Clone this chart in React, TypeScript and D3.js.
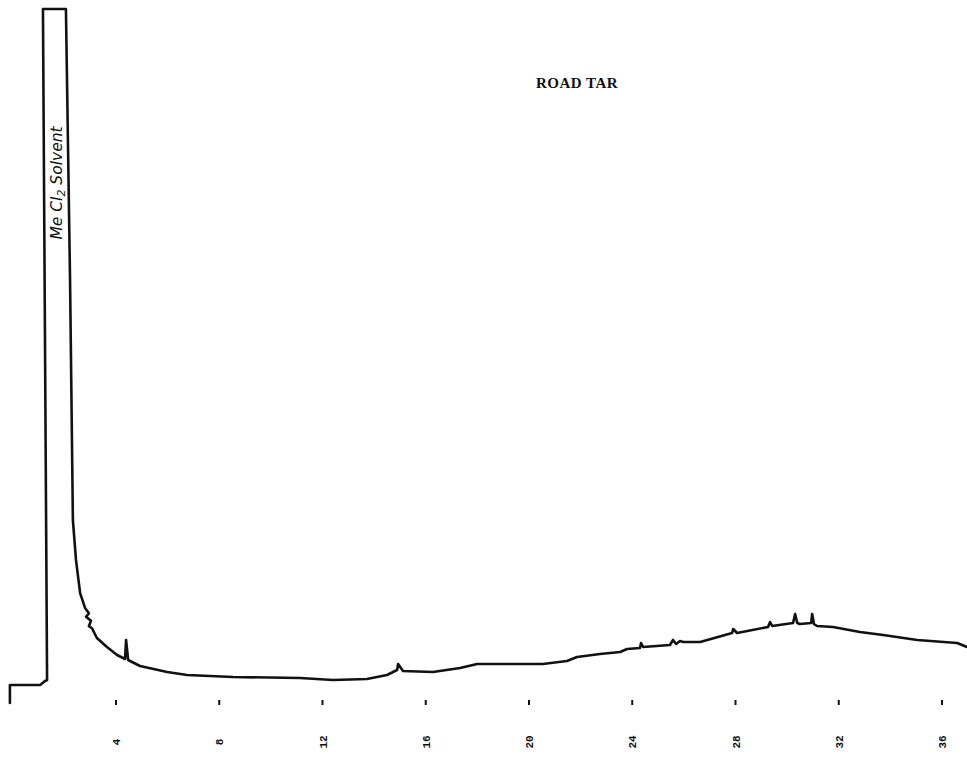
import React from "react";
import * as d3 from "d3";

// Retention time (min) and detector response (% full scale)
const times: number[] = [
  -0.11, -0.11, 1.06, 1.25, 1.33, 1.17, 2.06, 2.22, 2.33, 2.45, 2.61, 2.8, 2.95, 2.84, 3.03, 2.95, 3.07,
  3.26, 3.65, 4.04, 4.35, 4.39, 4.47, 4.93, 5.98, 6.75, 8.53, 11.13, 12.41, 13.72, 14.5, 14.89, 14.93,
  15.12, 16.28, 17.33, 17.99, 20.54, 21.47, 21.86, 22.75, 23.53, 23.8, 24.3, 24.34, 24.42, 25.46, 25.58,
  25.7, 25.85, 25.97, 26.63, 27.87, 27.91, 28.06, 29.26, 29.34, 29.42, 30.23, 30.31, 30.39, 30.5, 30.93,
  30.97, 31.04, 31.16, 31.78, 32.82, 33.72, 35.04, 36.59, 36.97,
];
const response: number[] = [
  -2.66, 0, 0, 0.59, 0.74, 100, 100, 59.9, 24.4, 18.5, 13.6, 11.4, 10.6, 10.1, 9.5, 8.7, 8.4,
  6.95, 5.62, 4.44, 3.85, 6.66, 3.7, 2.81, 1.92, 1.48, 1.18, 1.04, 0.74, 0.89, 1.48, 2.22, 3.11,
  2.07, 1.92, 2.51, 3.11, 3.11, 3.55, 4.14, 4.59, 4.88, 5.33, 5.47, 6.21, 5.62, 5.92, 6.66,
  6.07, 6.51, 6.36, 6.36, 7.69, 8.28, 7.69, 8.58, 9.32, 8.73, 9.17, 10.5, 9.17, 9.02, 9.17,
  10.5, 9.02, 8.73, 8.58, 7.84, 7.4, 6.66, 6.21, 5.62,
];
const tickValues: number[] = [4, 8, 12, 16, 20, 24, 28, 32, 36];
const title = "ROAD TAR";
const peakLabel = "Me Cl";
const peakLabelSub = "2";
const peakLabelRest = " Solvent";

export default function App() {
  const W = 967;
  const H = 757;
  const x = d3.scaleLinear().domain([4, 36]).range([116, 942]);
  const y = d3.scaleLinear().domain([0, 100]).range([685, 9]);
  const pts = times.map((t, i) => ({ t, s: response[i] }));
  const line = d3
    .line<{ t: number; s: number }>()
    .x((d) => x(d.t))
    .y((d) => y(d.s));
  const labelX = (x(1.17) + x(2.06)) / 2;
  return (
    <svg
      width={W}
      height={H}
      style={{ position: "absolute", left: 0, top: 0, background: "#fff" }}
    >
      <rect x={0} y={0} width={W} height={H} fill="#fff" />
      <path
        d={line(pts) || ""}
        fill="none"
        stroke="#111"
        strokeWidth={2.6}
        strokeLinejoin="round"
        strokeLinecap="round"
      />
      {tickValues.map((v) => (
        <g key={v}>
          <line x1={x(v)} x2={x(v)} y1={700} y2={705} stroke="#111" strokeWidth={2} />
          <text
            transform={`translate(${x(v) + 4},742) rotate(-90)`}
            textAnchor="middle"
            fontFamily="'Liberation Mono', monospace"
            fontWeight="bold"
            fontSize={11}
            fill="#111"
          >
            {v}
          </text>
        </g>
      ))}
      <text
        x={577}
        y={88}
        textAnchor="middle"
        fontFamily="'Liberation Serif', serif"
        fontWeight="bold"
        fontSize={15}
        letterSpacing={0.5}
        fill="#111"
      >
        {title}
      </text>
      <text
        transform={`translate(${labelX + 8},183) rotate(-90)`}
        textAnchor="middle"
        fontFamily="'DejaVu Sans', sans-serif"
        fontStyle="italic"
        fontSize={15.5}
        fill="#111"
      >
        {peakLabel}
        <tspan fontSize={11} dy={3}>{peakLabelSub}</tspan>
        <tspan dy={-3}>{peakLabelRest}</tspan>
      </text>
    </svg>
  );
}
